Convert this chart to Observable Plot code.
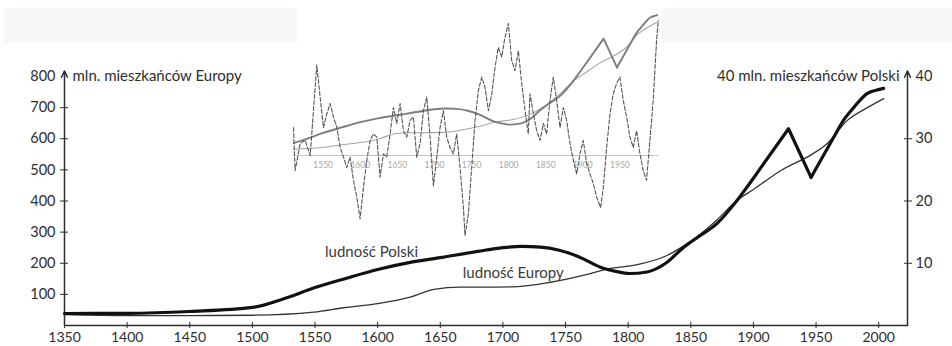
<!DOCTYPE html>
<html>
<head>
<meta charset="utf-8">
<script src="https://cdn.jsdelivr.net/npm/d3@7"></script>
<script src="https://cdn.jsdelivr.net/npm/@observablehq/plot@0.6"></script>
<style>
  html, body { margin: 0; padding: 0; background: #fff; }
  #wrap { position: relative; width: 952px; height: 346px; overflow: hidden; background: #fff; font-family: Lato, "Open Sans", sans-serif; }
  #wrap > svg, #wrap > figure { position: absolute; left: 0; top: 0; margin: 0; }
  .band { position: absolute; top: 8px; height: 35px; background: #f8f6f6; }
</style>
</head>
<body>
<div id="wrap">
  <div class="band" style="left:4px;width:293px"></div>
  <div class="band" style="left:662px;width:290px"></div>
</div>
<script>
// ---------- data ----------
// population of Poland (millions, right axis)
const plYears  = [1350,1400,1450,1500,1525,1550,1575,1600,1625,1650,1680,1700,1715,1730,1745,1760,1780,1790,1801,1815,1830,1844,1855,1871,1887,1898,1928,1946,1964,1972,1980,1991,1998,2004];
const plValues = [1.93,1.95,2.25,2.9,4.3,6.1,7.6,9.0,10.1,10.9,11.9,12.5,12.7,12.6,12.1,11.1,9.2,8.7,8.35,8.6,10.0,12.5,14.1,16.4,20.1,23.1,31.6,23.8,30.2,33.0,35.0,37.3,37.8,38.1];
// population of Europe (millions, left axis)
const euYears  = [1350,1400,1450,1500,1549,1573,1600,1626,1645,1666,1685,1712,1738,1764,1784,1804,1831,1844,1858,1871,1887,1900,1922,1948,1959,1975,1991,2004];
const euValues = [35,32,32,33,43,57,70,91,116,123,123,125,139,161,182,193,225,255,295,340,402,437,498,553,585,659,700,729];
// inset: dashed climate series (anomaly)
const tempYears  = [1510,1512.2,1519,1525.7,1532.5,1536.9,1541.4,1545.9,1550.4,1554.9,1559.4,1563.9,1568.4,1572.9,1577.4,1581.8,1586.3,1590.8,1595.3,1599.8,1604.3,1608.8,1613.3,1617.8,1622.3,1626.7,1631.2,1635.7,1640.2,1644.7,1649.2,1653.7,1658.2,1662.7,1667.2,1671.6,1676.1,1680.6,1685.1,1689.6,1694.1,1698.6,1703.1,1707.6,1712.1,1716.5,1721,1725.5,1730,1734.5,1739,1741.2,1745.7,1750.2,1754.7,1759.2,1763.7,1768.2,1772.7,1777.2,1781.6,1786.1,1790.6,1795.1,1799.6,1804.1,1808.6,1813.1,1817.6,1822.1,1826.5,1828.8,1833.3,1837.8,1842.3,1846.8,1851.2,1855.7,1860.2,1864.7,1869.2,1873.7,1878.2,1882.7,1887.2,1891.7,1896.1,1900.6,1905.1,1909.6,1914.1,1918.6,1924,1927.6,1932.1,1936.6,1941,1945.5,1950,1954.5,1959,1963.5,1968,1972.5,1977,1981.5,1985.9,1990.4,1994.9,1999.4,2001.7];
const tempValues = [0.35,-0.19,0.15,0.19,0,0.56,1.13,0.73,0.35,0.52,0.65,0.48,0.35,0.10,-0.02,-0.15,-0.02,-0.31,-0.52,-0.79,-0.40,-0.06,0.19,0.27,0.23,-0.27,0.02,-0.02,0.27,0.60,0.40,0.65,0.31,0.23,0.44,0.48,-0.02,0.15,0.56,0.73,0.23,-0.38,-0.02,0.35,0.56,0.23,0.10,0.02,0.27,-0.15,-0.65,-1.00,-0.73,-0.15,0.44,0.81,0.98,0.85,0.56,0.77,1.10,1.35,1.23,1.48,1.65,1.19,1.06,1.31,0.90,0.56,0.27,0.77,0.52,0.31,0.19,0.40,0.27,0.69,0.98,0.69,0.35,0.60,0.44,0.15,-0.06,-0.23,0.02,0.19,-0.10,-0.23,-0.35,-0.52,-0.65,-0.40,0.10,0.52,0.77,0.90,0.98,0.69,0.48,0.23,0.10,0.31,0.02,-0.19,-0.31,0.19,0.69,1.44,1.69];
// ticks & labels
const xTicks = [1350,1400,1450,1500,1550,1600,1650,1700,1750,1800,1850,1900,1950,2000];
const leftTicks = [100,200,300,400,500,600,700,800];
const rightTicks = [10,20,30,40];
const insetTicks = [1550,1600,1650,1700,1750,1800,1850,1900,1950];
const leftTitle = "mln. mieszkańców Europy";
const rightTitle = "40 mln. mieszkańców Polski";
const seriesLabels = [
  {text: "ludność Polski", year: 1558, value: 235},
  {text: "ludność Europy", year: 1668, value: 167}
];

// ---------- derived tables ----------
const leftMax = 800, rightMax = 40, ratio = leftMax / rightMax;
const pl = plYears.map((year, i) => ({year, v: plValues[i]}));
const eu = euYears.map((year, i) => ({year, v: euValues[i]}));
const temp = tempYears.map((year, i) => ({year, v: tempValues[i]}));
const plA = pl.filter(d => d.year <= 1887);
const plB = pl.filter(d => d.year >= 1887 && d.year <= 1946);
const plC = pl.filter(d => d.year >= 1946);
const axisEnds = [{x: 1350}, {x: 2023}];

const W = 952, H = 346;
const font = "Lato, 'Open Sans', sans-serif";
const ink = "#2e2e2e";
const wrap = document.getElementById("wrap");
const blank = () => "";

// ---------- main chart ----------
const main = Plot.plot({
  width: W, height: H,
  marginLeft: 64, marginRight: 45, marginTop: 76, marginBottom: 21,
  x: {domain: [1350, 2023]},
  y: {domain: [0, leftMax]},
  style: {background: "none", fontFamily: font, fontSize: "14px", color: ink, overflow: "visible"},
  marks: [
    Plot.ruleY([0], {stroke: ink, strokeWidth: 1.5}),
    Plot.arrow(axisEnds, {x1: "x", x2: "x", y1: () => 0, y2: () => 818, stroke: ink, strokeWidth: 1.5, headLength: 7, headAngle: 50}),
    Plot.axisX(xTicks, {anchor: "bottom", tickSize: 6, dy: -3, stroke: ink, tickFormat: blank}),
    Plot.axisX(xTicks, {anchor: "bottom", tickSize: 0, tickPadding: 7, tickFormat: d => String(d), fontSize: 14, fill: ink}),
    Plot.axisY(leftTicks.filter(d => d < leftMax), {anchor: "left", tickSize: 8, dx: 4, stroke: ink, tickFormat: blank}),
    Plot.axisY(leftTicks, {anchor: "left", tickSize: 0, tickPadding: 9, tickFormat: d => String(d), fontSize: 14.5, fill: ink}),
    Plot.axisY(rightTicks.filter(d => d < rightMax).map(d => d * ratio), {anchor: "right", tickSize: 8, dx: -4, stroke: ink, tickFormat: blank}),
    Plot.axisY(rightTicks.map(d => d * ratio), {anchor: "right", tickSize: 0, tickPadding: 8, tickFormat: d => String(d / ratio), fontSize: 14.5, fill: ink}),
    Plot.text([leftTitle], {frameAnchor: "top-left", dx: 8, textAnchor: "start", lineAnchor: "middle", fontSize: 15, fill: ink}),
    Plot.text([rightTitle], {frameAnchor: "top-right", dx: -8, textAnchor: "end", lineAnchor: "middle", fontSize: 15, fill: ink}),
    Plot.text(seriesLabels, {x: "year", y: "value", text: "text", textAnchor: "start", fontSize: 15, fill: "#3a3a3a"}),
    Plot.line(eu, {x: "year", y: "v", curve: "monotone-x", stroke: "#333", strokeWidth: 1.3}),
    Plot.line(plA, {x: "year", y: d => d.v * ratio, curve: "monotone-x", stroke: "#111", strokeWidth: 3.2}),
    Plot.line(plB, {x: "year", y: d => d.v * ratio, curve: "linear", stroke: "#111", strokeWidth: 3.2}),
    Plot.line(plC, {x: "year", y: d => d.v * ratio, curve: "monotone-x", stroke: "#111", strokeWidth: 3.2})
  ]
});
wrap.appendChild(main);

// ---------- inset: reduced copy of the curves ----------
const insetX = {domain: [1510, 2002], axis: null};
const inset = Plot.plot({
  width: W, height: H,
  marginLeft: 293, marginRight: 294, marginTop: 7, marginBottom: 191,
  x: insetX,
  y: {domain: [0, rightMax], axis: null},
  style: {background: "none", fontFamily: font, overflow: "visible"},
  marks: [
    Plot.ruleY([0], {stroke: "#c4c4c4", strokeWidth: 1}),
    Plot.text(insetTicks, {x: d => d, y: () => 0, dy: 10, text: d => String(d), fontSize: 8.5, fill: "#a8a8a8"}),
    Plot.line(eu, {x: "year", y: d => d.v / ratio, curve: "monotone-x", clip: true, stroke: "#a5a5a5", strokeWidth: 1.1}),
    Plot.line(plA, {x: "year", y: "v", curve: "monotone-x", clip: true, stroke: "#7d7d7d", strokeWidth: 1.9}),
    Plot.line(plB, {x: "year", y: "v", curve: "linear", clip: true, stroke: "#7d7d7d", strokeWidth: 1.9}),
    Plot.line(plC, {x: "year", y: "v", curve: "monotone-x", clip: true, stroke: "#7d7d7d", strokeWidth: 1.9})
  ]
});
wrap.appendChild(inset);

// ---------- inset: dashed climate series ----------
const climate = Plot.plot({
  width: W, height: H,
  marginLeft: 293, marginRight: 294, marginTop: 15, marginBottom: 111,
  x: insetX,
  y: {domain: [-1, 1.75], axis: null},
  style: {background: "none", overflow: "visible"},
  marks: [
    Plot.line(temp, {x: "year", y: "v", curve: "linear", stroke: "#555", strokeWidth: 1.1, strokeDasharray: "4,2"})
  ]
});
wrap.appendChild(climate);
</script>
</body>
</html>
